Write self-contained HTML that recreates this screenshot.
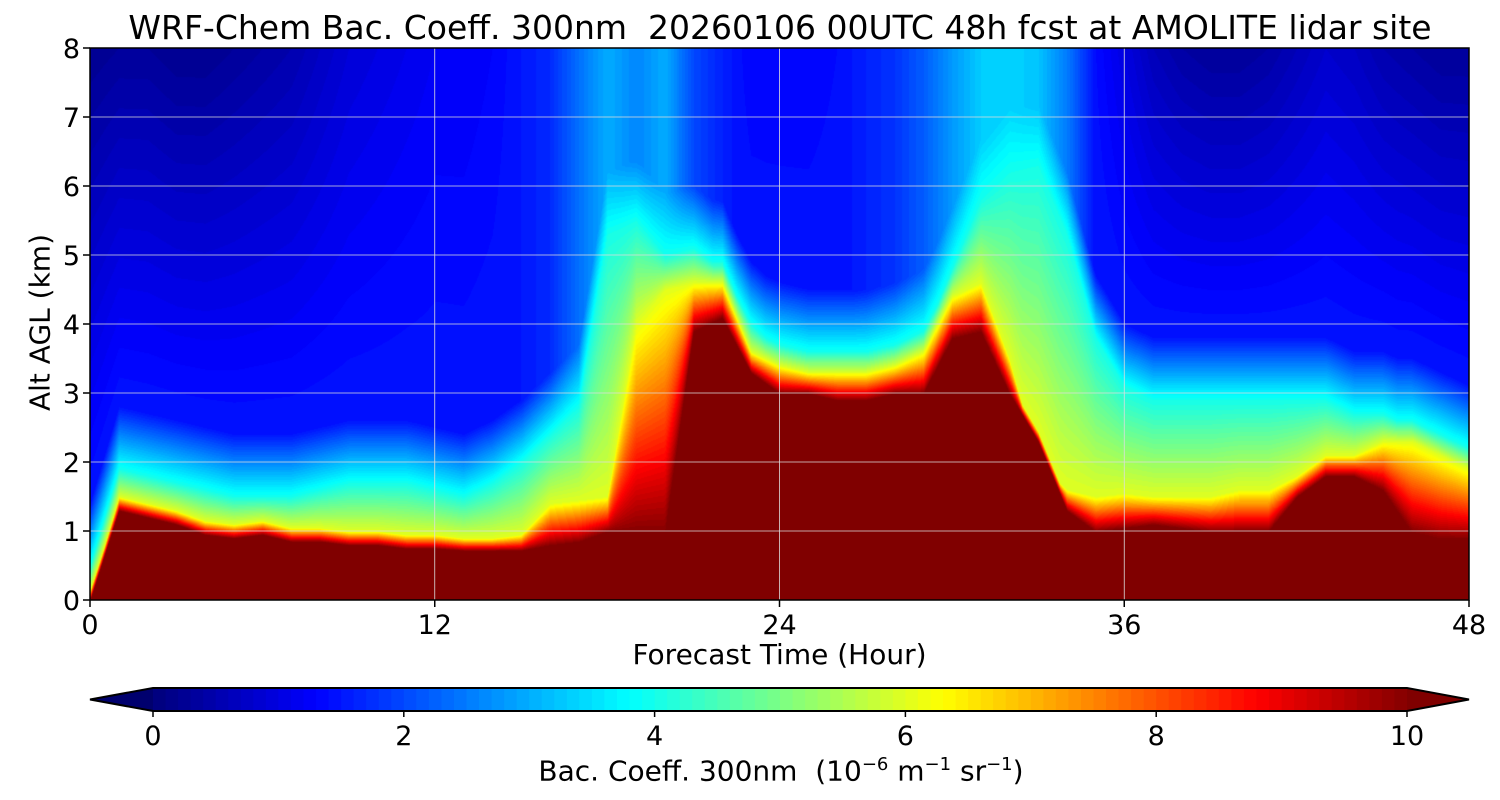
<!DOCTYPE html>
<html><head><meta charset="utf-8"><style>
body{margin:0;background:#fff;width:1500px;height:800px;overflow:hidden;font-family:"DejaVu Sans","Liberation Sans",sans-serif;}
.t{position:absolute;white-space:nowrap;color:#000;}
</style></head><body>
<div class="t" style="left:0;width:1560px;text-align:center;top:8px;font-size:33px;">WRF-Chem Bac. Coeff. 300nm&nbsp; 20260106 00UTC 48h fcst at AMOLITE lidar site</div>
<canvas id="field" width="1379" height="552" style="position:absolute;left:90px;top:48px;"></canvas>
<svg id="ov" width="1500" height="800" style="position:absolute;left:0;top:0;"></svg>
<div class="t" style="left:0;width:1559px;text-align:center;top:638px;font-size:28px;">Forecast Time (Hour)</div>
<div class="t" style="left:-70px;top:306px;font-size:28px;transform:rotate(-90deg);transform-origin:center;width:220px;text-align:center;">Alt AGL (km)</div>
<div class="t" style="left:0;width:1562px;text-align:center;top:754px;font-size:28px;">Bac. Coeff. 300nm&nbsp; (10<sup style="font-size:18px">−6</sup> m<sup style="font-size:18px">−1</sup> sr<sup style="font-size:18px">−1</sup>)</div>
<script>
const hours=[0,1,2,3,4,5,6,7,8,9,10,11,12,13,14,15,16,17,18,19,20,21,22,23,24,25,26,27,28,29,30,31,32,33,34,35,36,37,38,39,40,41,42,43,44,45,46,47,48];
const h10=[0,1.3,1.2,1.1,0.95,0.9,0.95,0.85,0.85,0.8,0.8,0.75,0.75,0.72,0.72,0.72,0.8,0.85,1.0,1.0,1.0,3.9,4.1,3.3,3.0,3.0,2.9,2.9,3.0,3.0,3.8,3.9,3.0,2.3,1.3,1.0,1.05,1.1,1.05,1.0,1.0,1.0,1.5,1.8,1.8,1.6,1.0,0.9,0.9];
const h6=[0.1,1.5,1.4,1.3,1.15,1.1,1.15,1.05,1.05,1.0,1.0,0.95,0.95,0.9,0.9,0.95,1.4,1.45,1.5,4.0,4.5,4.6,4.6,3.6,3.4,3.3,3.3,3.3,3.4,3.6,4.4,4.6,3.5,2.0,1.6,1.5,1.55,1.5,1.5,1.5,1.6,1.6,1.8,2.1,2.1,2.3,2.3,2.1,1.9];
const h4=[0.5,1.9,1.8,1.7,1.6,1.5,1.5,1.5,1.6,1.7,1.7,1.7,1.6,1.5,1.7,2.0,2.4,2.8,5.3,5.5,5.0,5.1,4.8,4.0,3.6,3.5,3.5,3.5,3.6,3.8,4.8,5.8,6.2,6.3,5.3,3.8,3.1,2.9,2.9,2.9,2.9,2.9,2.9,2.9,2.7,2.7,2.5,2.3,2.1];
const vtop=[0.2,0.3,0.3,0.2,0.2,0.3,0.4,0.5,0.7,0.9,1.0,1.1,1.2,1.2,1.3,1.5,1.7,2.4,3.0,2.6,3.0,2.0,1.6,1.3,1.3,1.3,1.4,1.6,1.8,2.2,2.8,3.3,3.4,3.2,2.5,1.4,1.0,0.6,0.4,0.3,0.3,0.4,0.6,0.8,0.7,0.5,0.4,0.3,0.3];
const xTicks=[0,12,24,36,48], yTicks=[0,1,2,3,4,5,6,7,8], cTicks=[0,2,4,6,8,10];
const X0=90,X1=1469,Y0=600,Y1=48;
const xs=h=>X0+(h-0)/48*(X1-X0), ys=z=>Y0-z/8*(Y0-Y1), cs=v=>153+v/10*(1407-153);
function jet(x){x=Math.max(0,Math.min(1,x));const c=a=>Math.round(255*Math.max(0,Math.min(1,1.5-Math.abs(4*x-a))));return [c(3),c(2),c(1)];}
function interp(arr,t){const i=Math.min(47,Math.floor(t));const f=t-i;return arr[i]*(1-f)+arr[i+1]*f;}
function val(t,z){let a=interp(h10,t),b=Math.max(interp(h6,t),a+0.15),c=Math.max(interp(h4,t),b+0.3),top=interp(vtop,t);
 if(z<=a)return 11;if(z<=b)return 10-4*(z-a)/(b-a);if(z<=c)return 6-2*(z-b)/(c-b);
 const mid=Math.max(1.5,top);const d=Math.min(c+0.9,7.9);if(z<=d)return 4-(4-mid)*(z-c)/(d-c);return mid+(top-mid)*(z-d)/Math.max(0.1,8-d);}
function col(v){v=Math.floor(v*10)/10;if(v>=10)return [128,0,0];if(v<0)v=0;return jet(v/10);}
const cv=document.getElementById('field'),ctx=cv.getContext('2d'),W=cv.width,H=cv.height,img=ctx.createImageData(W,H);
for(let px=0;px<W;px++){const t=px/W*48;for(let py=0;py<H;py++){const z=(H-py)/H*8;const c=col(val(t,z));const k=(py*W+px)*4;img.data[k]=c[0];img.data[k+1]=c[1];img.data[k+2]=c[2];img.data[k+3]=255;}}
ctx.putImageData(img,0,0);
const svg=document.getElementById('ov'),NS='http://www.w3.org/2000/svg';
function mk(tag,at,txt){const e=document.createElementNS(NS,tag);for(const k in at)e.setAttribute(k,at[k]);if(txt!==undefined)e.textContent=txt;svg.appendChild(e);return e;}
xTicks.forEach(h=>{let g=mk('line',{x1:xs(h),x2:xs(h),y1:Y1,y2:Y0,stroke:'#ddd','stroke-width':0.8});
 mk('line',{x1:xs(h),x2:xs(h),y1:Y0,y2:Y0+7,stroke:'#000','stroke-width':1.5});
 let l=mk('text',{x:xs(h),y:634,'font-size':27,'text-anchor':'middle','font-family':'DejaVu Sans'},h);});
yTicks.forEach(z=>{let g=mk('line',{x1:X0,x2:X1,y1:ys(z),y2:ys(z),stroke:'#ddd','stroke-width':0.8});
 mk('line',{x1:X0-7,x2:X0,y1:ys(z),y2:ys(z),stroke:'#000','stroke-width':1.5});
 let l=mk('text',{x:X0-10,y:ys(z)+10,'font-size':27,'text-anchor':'end','font-family':'DejaVu Sans'},z);});
let fr=mk('rect',{x:X0,y:Y1,width:X1-X0,height:Y0-Y1,fill:'none',stroke:'#000','stroke-width':1.5});

const cy0=688,cy1=711;
for(let i=0;i<100;i++){const v=i/10;const c=col(v);let r=mk('rect',{x:cs(v),y:cy0,width:cs(0.1)-cs(0)+0.6,height:cy1-cy0,fill:`rgb(${c})`});}
mk('polygon',{points:`153,${cy0} 90,${(cy0+cy1)/2} 153,${cy1}`,fill:'rgb(0,0,110)'});
mk('polygon',{points:`1407,${cy0} 1469,${(cy0+cy1)/2} 1407,${cy1}`,fill:'rgb(128,0,0)'});
let cb=mk('polygon',{points:`153,${cy0} 1407,${cy0} 1469,${(cy0+cy1)/2} 1407,${cy1} 153,${cy1} 90,${(cy0+cy1)/2}`,fill:'none',stroke:'#000','stroke-width':2});

cTicks.forEach(v=>{mk('line',{x1:cs(v),x2:cs(v),y1:cy1,y2:cy1+6,stroke:'#000','stroke-width':1.5});
 let l=mk('text',{x:cs(v),y:745,'font-size':27,'text-anchor':'middle','font-family':'DejaVu Sans'},v);});
</script>
</body></html>
